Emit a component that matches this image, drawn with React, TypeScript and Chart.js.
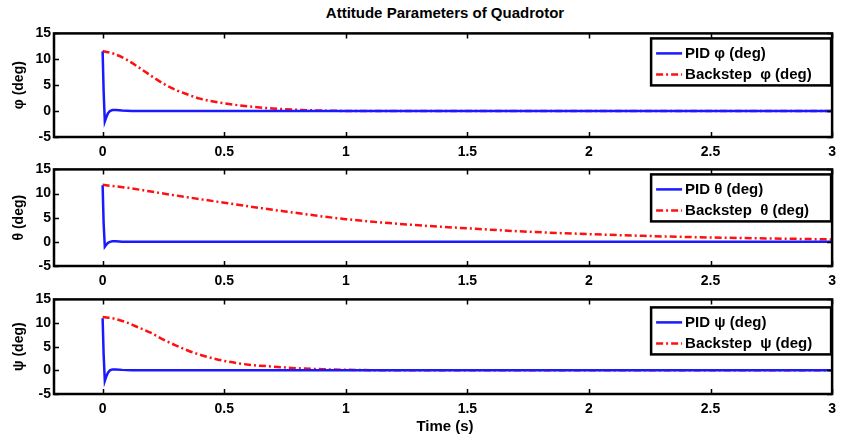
import React, { useEffect, useRef } from "react";
import { Chart, registerables } from "chart.js";

Chart.register(...registerables);

// ---- data ----
const xTicks = [0, 0.5, 1, 1.5, 2, 2.5, 3];
const yTicks = [-5, 0, 5, 10, 15];

const pidTime = [0, 0.004, 0.009, 0.015, 0.022, 0.03, 0.04, 0.055, 0.08, 0.12, 3];
const pidPhi = [11.5, 4.0, -2.0, -1.2, -0.4, 0.0, 0.2, 0.2, 0.1, 0.0, 0.0];
const pidTheta = [11.7, 4.0, -1.0, -0.6, -0.2, 0.0, 0.1, 0.1, 0.0, 0.0, 0.0];
const pidPsi = [11.0, 3.5, -2.2, -1.3, -0.5, 0.0, 0.2, 0.2, 0.1, 0.0, 0.0];

const phiBackTime = [0, 0.05, 0.1, 0.15, 0.2, 0.25, 0.3, 0.35, 0.4, 0.45, 0.5, 0.6, 0.7, 0.8, 0.9, 1.0, 1.5, 2, 2.5, 3];
const phiBack = [11.6, 11.0, 9.9, 8.4, 6.8, 5.3, 4.1, 3.2, 2.4, 1.9, 1.5, 0.9, 0.5, 0.25, 0.1, 0.03, 0, 0, 0, 0];

const thetaBackTime = [0, 0.1, 0.25, 0.5, 0.75, 1.0, 1.25, 1.5, 1.75, 2.0, 2.25, 2.5, 2.75, 3.0];
const thetaBack = [11.8, 11.2, 10.0, 8.1, 6.3, 4.7, 3.6, 2.8, 2.1, 1.6, 1.2, 0.9, 0.7, 0.5];

const psiBackTime = [0, 0.05, 0.1, 0.15, 0.2, 0.25, 0.3, 0.35, 0.4, 0.45, 0.5, 0.6, 0.7, 0.8, 0.9, 1.0, 1.2, 3];
const psiBack = [11.3, 10.9, 10.1, 9.0, 7.9, 6.5, 5.3, 4.2, 3.3, 2.6, 2.0, 1.2, 0.8, 0.45, 0.25, 0.12, 0, 0];

const titleText = "Attitude Parameters of Quadrotor";
const xLabel = "Time (s)";

const BLUE = "#1a1aff";
const RED = "#ff1010";
const DASH = [7, 3, 2, 3];
const FAMILY = "'Liberation Sans', Arial, Helvetica, sans-serif";

type SubProps = {
  top: number;
  padTop: number;
  areaH: number;
  yTitle: string;
  pid: number[];
  backT: number[];
  back: number[];
  legend: [string, string];
  legTop: number;
};

function toXY(t: number[], v: number[]) {
  return t.map((x, i) => ({ x, y: v[i] }));
}

function Subplot(p: SubProps) {
  const ref = useRef<HTMLCanvasElement>(null);
  const axisH = 22;
  const h = p.padTop + p.areaH + axisH;
  useEffect(() => {
    const font = { family: FAMILY, size: 14, weight: "bold" as const };
    const framePlugin = {
      id: "frameLegend",
      afterDatasetsDraw(chart: any) {
        const ctx = chart.ctx;
        const a = chart.chartArea;
        const xs = chart.scales.x;
        const ys = chart.scales.y;
        ctx.save();
        ctx.strokeStyle = "#000";
        ctx.lineWidth = 1.5;
        const tl = 5;
        xTicks.forEach((v) => {
          const px = Math.round(xs.getPixelForValue(v)) + 0.5;
          ctx.beginPath();
          ctx.moveTo(px, a.bottom);
          ctx.lineTo(px, a.bottom - tl);
          ctx.moveTo(px, a.top);
          ctx.lineTo(px, a.top + tl);
          ctx.stroke();
        });
        yTicks.forEach((v) => {
          const py = Math.round(ys.getPixelForValue(v)) + 0.5;
          ctx.beginPath();
          ctx.moveTo(a.left, py);
          ctx.lineTo(a.left + tl, py);
          ctx.moveTo(a.right, py);
          ctx.lineTo(a.right - tl, py);
          ctx.stroke();
        });
        ctx.lineWidth = 2.5;
        ctx.strokeRect(a.left, a.top, a.right - a.left, a.bottom - a.top);

        // legend
        const lw = 180;
        const lh = 47;
        const lx = a.right - lw - 1;
        const ly = a.top + p.legTop;
        ctx.fillStyle = "#fff";
        ctx.fillRect(lx, ly, lw, lh);
        ctx.lineWidth = 2.5;
        ctx.strokeStyle = "#000";
        ctx.strokeRect(lx, ly, lw, lh);
        const rows = [ly + 15, ly + 36];
        ctx.lineWidth = 2.5;
        ctx.strokeStyle = BLUE;
        ctx.setLineDash([]);
        ctx.beginPath();
        ctx.moveTo(lx + 5, rows[0]);
        ctx.lineTo(lx + 31, rows[0]);
        ctx.stroke();
        ctx.strokeStyle = RED;
        ctx.setLineDash(DASH);
        ctx.beginPath();
        ctx.moveTo(lx + 5, rows[1]);
        ctx.lineTo(lx + 31, rows[1]);
        ctx.stroke();
        ctx.setLineDash([]);
        ctx.fillStyle = "#000";
        ctx.font = `bold 15px ${FAMILY}`;
        ctx.textBaseline = "middle";
        ctx.textAlign = "left";
        ctx.fillText(p.legend[0], lx + 34, rows[0]);
        ctx.fillText(p.legend[1], lx + 34, rows[1]);
        ctx.restore();
      },
    };
    const chart = new Chart(ref.current as HTMLCanvasElement, {
      type: "line",
      data: {
        datasets: [
          {
            data: toXY(pidTime, p.pid),
            borderColor: BLUE,
            borderWidth: 2.5,
            pointRadius: 0,
            tension: 0,
          },
          {
            data: toXY(p.backT, p.back),
            borderColor: RED,
            borderWidth: 2.5,
            borderDash: DASH,
            pointRadius: 0,
            cubicInterpolationMode: "monotone",
          },
        ],
      },
      options: {
        responsive: false,
        maintainAspectRatio: false,
        animation: false,
        events: [],
        layout: { padding: { top: p.padTop, right: 7, left: 0, bottom: 0 } },
        plugins: {
          legend: { display: false },
          tooltip: { enabled: false },
          title: { display: false },
        },
        scales: {
          x: {
            type: "linear",
            min: -0.2,
            max: 3,
            grid: { display: false, drawTicks: false },
            border: { display: false },
            ticks: {
              font,
              color: "#000",
              padding: 7,
              maxRotation: 0,
              autoSkip: false,
              callback: (v: any) => `${v}`,
            },
            afterBuildTicks: (s: any) => {
              s.ticks = xTicks.map((v) => ({ value: v }));
            },
            afterFit: (s: any) => {
              s.height = axisH;
            },
          },
          y: {
            type: "linear",
            min: -5,
            max: 15,
            grid: { display: false, drawTicks: false },
            border: { display: false },
            ticks: {
              font,
              color: "#000",
              padding: 3,
              autoSkip: false,
              callback: (v: any) => `${v}`,
            },
            title: {
              display: true,
              text: p.yTitle,
              color: "#000",
              font: { family: FAMILY, size: 14, weight: "bold" as const },
              padding: { top: 11, bottom: 0 },
            },
            afterBuildTicks: (s: any) => {
              s.ticks = yTicks.map((v) => ({ value: v }));
            },
            afterFit: (s: any) => {
              s.width = 54;
            },
          },
        },
      } as any,
      plugins: [framePlugin],
    });
    return () => chart.destroy();
  }, []);
  return (
    <canvas
      ref={ref}
      width={843}
      height={h}
      style={{ position: "absolute", left: 0, top: p.top, width: 843, height: h }}
    />
  );
}

export default function App() {
  return (
    <div
      style={{
        position: "fixed",
        left: 0,
        top: 0,
        width: 843,
        height: 442,
        background: "#fff",
        overflow: "hidden",
      }}
    >
      <div
        style={{
          position: "absolute",
          left: 54,
          width: 782,
          top: 4,
          textAlign: "center",
          font: `bold 15px ${FAMILY}`,
          lineHeight: "18px",
          color: "#000",
        }}
      >
        {titleText}
      </div>
      <Subplot
        top={22}
        padTop={6}
        areaH={109}
        yTitle="φ (deg)"
        pid={pidPhi}
        backT={phiBackTime}
        back={phiBack}
        legend={["PID φ (deg)", "Backstep  φ (deg)"]}
        legTop={5}
      />
      <Subplot
        top={158}
        padTop={6}
        areaH={102}
        yTitle="θ (deg)"
        pid={pidTheta}
        backT={thetaBackTime}
        back={thetaBack}
        legend={["PID θ (deg)", "Backstep  θ (deg)"]}
        legTop={5}
      />
      <Subplot
        top={288}
        padTop={7}
        areaH={99}
        yTitle="ψ (deg)"
        pid={pidPsi}
        backT={psiBackTime}
        back={psiBack}
        legend={["PID ψ (deg)", "Backstep  ψ (deg)"]}
        legTop={8}
      />
      <div
        style={{
          position: "absolute",
          left: 54,
          width: 782,
          top: 417,
          textAlign: "center",
          font: `bold 15px ${FAMILY}`,
          lineHeight: "18px",
          color: "#000",
        }}
      >
        {xLabel}
      </div>
    </div>
  );
}
